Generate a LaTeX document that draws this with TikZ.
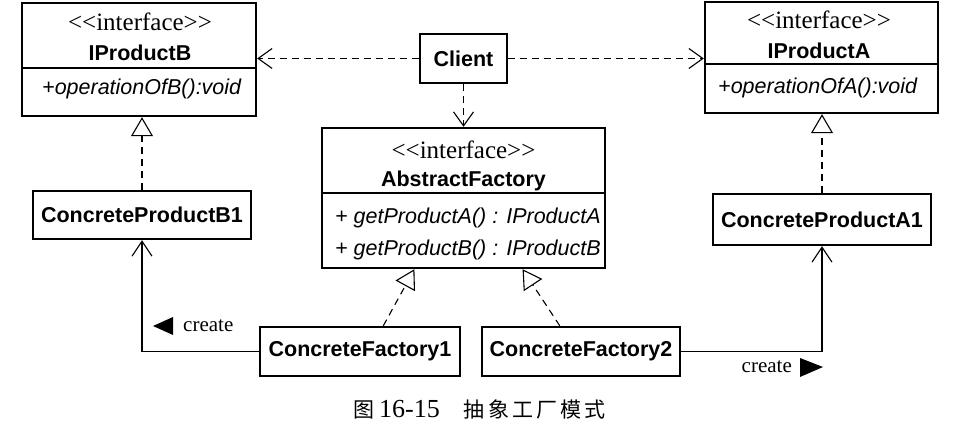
\documentclass[tikz,border=0pt]{standalone}
\usepackage{fontspec}
\setmainfont{Liberation Serif}
\newfontfamily\arial{Liberation Sans}
\newfontfamily\cjk{Noto Sans CJK SC}
\usetikzlibrary{arrows.meta,calc}
\begin{document}
\begin{tikzpicture}[x=1pt,y=-1pt,
  box/.style={draw, line width=2.4pt, inner sep=0pt},
  stereo/.style={font=\fontsize{25}{28}\selectfont, inner sep=0pt},
  cname/.style={font=\arial\bfseries\fontsize{21.5}{24}\selectfont, inner sep=0pt},
  meth/.style={font=\arial\itshape\fontsize{21.5}{24}\selectfont, inner sep=0pt, anchor=west},
  divider/.style={line width=1.1pt},
  conn/.style={line width=1.1pt},
  dep/.style={conn, dash pattern=on 7pt off 5pt, -{Straight Barb[length=14pt,width=20pt]}},
  real/.style={conn, dash pattern=on 7pt off 5pt, -{Triangle[open,length=19pt,width=22pt,fill=white]}},
  assoc/.style={conn, -{Straight Barb[length=15pt,width=20pt]}},
  lbl/.style={font=\fontsize{21}{24}\selectfont, inner sep=0pt},
]
\useasboundingbox (0,0) rectangle (977,430);

% IProductB
\node[box, minimum width=234pt, minimum height=113pt] (ipb) at (139,59.5) {};
\draw[divider] (ipb.west |- 0,68) -- (ipb.east |- 0,68);
\node[stereo] (ipbs) at (140,22) {<\kern0pt<interface>\kern0pt>};
\node[cname] (ipbn) at (140,53) {IProductB};
\node[meth] (ipbm) at (42,89) {+operationOfB():void};

% IProductA
\node[box, minimum width=233pt, minimum height=111pt] (ipa) at (821.5,57.5) {};
\draw[divider] (ipa.west |- 0,64) -- (ipa.east |- 0,64);
\node[stereo] (ipas) at (819,20) {<\kern0pt<interface>\kern0pt>};
\node[cname] (ipan) at (819,51) {IProductA};
\node[meth] (ipam) at (718,88) {+operationOfA():void};

% Client
\node[box, minimum width=87pt, minimum height=49pt, font=\arial\bfseries\fontsize{21.5}{24}\selectfont] (client) at (463.5,58.5) {Client};

% AbstractFactory
\node[box, minimum width=283pt, minimum height=140pt] (af) at (463.5,198) {};
\draw[divider] (af.west |- 0,193) -- (af.east |- 0,193);
\node[stereo] (afs) at (463.5,150) {<\kern0pt<interface>\kern0pt>};
\node[cname] (afn) at (463.5,181) {AbstractFactory};
\node[meth] (afm1) at (335,218) {+ getProductA() : IProductA};
\node[meth] (afm2) at (335,250) {+ getProductB() : IProductB};

% Concrete products
\node[box, minimum width=218pt, minimum height=48pt, font=\arial\bfseries\fontsize{21.5}{24}\selectfont] (cpb1) at (142,215) {ConcreteProductB1};
\node[box, minimum width=218pt, minimum height=51pt, font=\arial\bfseries\fontsize{21.5}{24}\selectfont] (cpa1) at (822,219.5) {ConcreteProductA1};

% Concrete factories
\node[box, minimum width=200pt, minimum height=49pt, font=\arial\bfseries\fontsize{21.5}{24}\selectfont] (cf1) at (360,351.5) {ConcreteFactory1};
\node[box, minimum width=198pt, minimum height=49pt, font=\arial\bfseries\fontsize{21.5}{24}\selectfont] (cf2) at (581,351.5) {ConcreteFactory2};

% Dependencies from Client
\draw[dep] (client.west) -- (client.west -| ipb.east);
\draw[dep] (client.east) -- (client.east -| ipa.west);
\draw[dep] (client.south) -- (af.north);

% Realizations
\draw[real] (cpb1.north) -- (cpb1.north |- ipb.south);
\draw[real] (cpa1.north) -- (cpa1.north |- ipa.south);
\draw[real] ($(cf1.north west)!0.615!(cf1.north east)$) -- ($(af.south west)!0.328!(af.south east)$);
\draw[real] ($(cf2.north west)!0.394!(cf2.north east)$) -- ($(af.south west)!0.707!(af.south east)$);

% Create associations
\draw[assoc] (cf1.west) -| (cpb1.south);
\draw[assoc] (cf2.east) -| (cpa1.south);

\node[lbl, anchor=west] (c1) at (183,326) {create};
\fill (153,326) -- (173,317) -- (173,335) -- cycle;
\node[lbl, anchor=east] (c2) at (792,367) {create};
\fill (823,367) -- (800,358) -- (800,377) -- cycle;

% Caption
\node[inner sep=0pt] (cap) at (479.5,409) {{\cjk\fontsize{21}{24}\selectfont 图}\kern5pt{\fontsize{26}{28}\selectfont 16-15}\kern24pt{\cjk\fontsize{21}{24}\selectfont 抽\kern3.2pt 象\kern3.2pt 工\kern3.2pt 厂\kern3.2pt 模\kern3.2pt 式}};
\end{tikzpicture}
\end{document}
